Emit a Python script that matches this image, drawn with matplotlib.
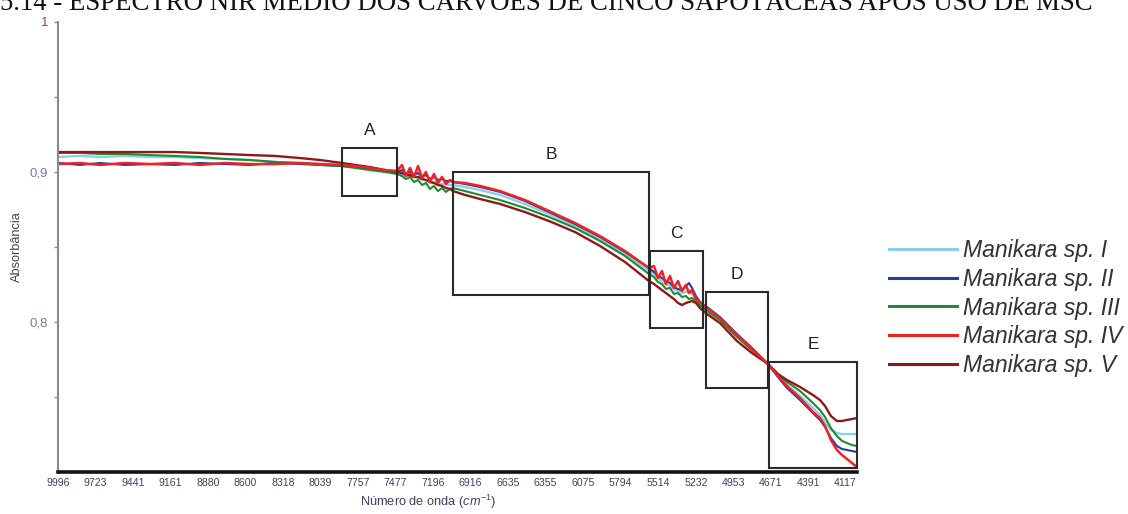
import matplotlib
matplotlib.use("Agg")
import matplotlib.pyplot as plt
from matplotlib.patches import Rectangle
from matplotlib.font_manager import FontProperties

plt.rcParams["font.family"] = ["Liberation Sans", "DejaVu Sans"]
plt.rcParams["mathtext.fontset"] = "custom"
plt.rcParams["mathtext.rm"] = "Liberation Sans"
plt.rcParams["mathtext.it"] = "Liberation Sans:italic"

# ---- spectra (wavenumber in cm-1, absorbance after MSC) ----
wavenumber = [
    9996, 9836, 9686, 9499, 9312, 9126, 8939, 8752, 8565, 8378,
    8191, 8042, 7877, 7780, 7668, 7556, 7466, 7429, 7399, 7369,
    7339, 7309, 7279, 7250, 7220, 7190, 7160, 7130, 7100, 7070,
    7048, 6958, 6846, 6696, 6510, 6330, 6136, 5949, 5762, 5583,
    5545, 5516, 5486, 5456, 5426, 5396, 5366, 5336, 5306, 5284,
    5261, 5232, 5202, 5149, 5052, 4925, 4813, 4693, 4619, 4551,
    4454, 4357, 4305, 4267, 4223, 4178, 4140, 4103, 4066, 4028,
]

abs_I = [
    .9100, .9107, .9100, .9107, .9100, .9100, .9093, .9087, .9080, .9067,
    .9060, .9053, .9040, .9033, .9020, .9007, .8993, .8987, .8980, .8973,
    .8967, .8960, .8953, .8947, .8940, .8933, .8927, .8920, .8920, .8913,
    .8913, .8900, .8880, .8847, .8787, .8720, .8640, .8553, .8453, .8340,
    .8320, .8293, .8273, .8253, .8240, .8220, .8207, .8193, .8200, .8207,
    .8187, .8160, .8127, .8087, .8020, .7907, .7820, .7720, .7640, .7580,
    .7507, .7427, .7380, .7333, .7280, .7260, .7253, .7253, .7253, .7253,
]

abs_II = [
    .9060, .9047, .9060, .9047, .9053, .9047, .9060, .9053, .9047, .9060,
    .9053, .9047, .9040, .9033, .9020, .9007, .9000, .9013, .8987, .9000,
    .8980, .8993, .8967, .8980, .8953, .8967, .8947, .8953, .8940, .8940,
    .8933, .8920, .8900, .8867, .8807, .8733, .8653, .8567, .8467, .8360,
    .8333, .8307, .8293, .8273, .8260, .8233, .8220, .8213, .8240, .8260,
    .8227, .8173, .8133, .8100, .8033, .7920, .7827, .7720, .7633, .7560,
    .7480, .7393, .7347, .7300, .7227, .7173, .7153, .7147, .7140, .7133,
]

abs_III = [
    .9127, .9127, .9120, .9120, .9113, .9107, .9100, .9087, .9080, .9067,
    .9060, .9047, .9040, .9027, .9013, .9000, .8987, .8973, .8953, .8967,
    .8933, .8947, .8913, .8927, .8887, .8907, .8873, .8893, .8867, .8887,
    .8893, .8873, .8847, .8813, .8760, .8700, .8627, .8540, .8440, .8320,
    .8300, .8267, .8253, .8220, .8227, .8187, .8193, .8167, .8173, .8153,
    .8160, .8140, .8113, .8073, .8013, .7900, .7813, .7720, .7653, .7600,
    .7540, .7460, .7413, .7367, .7293, .7240, .7207, .7193, .7180, .7173,
]

abs_IV = [
    .9053, .9060, .9047, .9060, .9053, .9060, .9047, .9060, .9053, .9053,
    .9060, .9053, .9047, .9040, .9027, .9013, .9007, .9047, .8973, .9027,
    .8967, .9040, .8960, .9000, .8933, .8987, .8927, .8967, .8920, .8947,
    .8933, .8927, .8907, .8873, .8813, .8740, .8660, .8573, .8473, .8360,
    .8373, .8293, .8340, .8253, .8307, .8227, .8273, .8207, .8247, .8193,
    .8213, .8153, .8133, .8093, .8027, .7913, .7820, .7720, .7640, .7573,
    .7493, .7400, .7360, .7307, .7213, .7147, .7113, .7087, .7060, .7033,
]

abs_V = [
    .9133, .9133, .9133, .9133, .9133, .9133, .9127, .9120, .9113, .9107,
    .9093, .9080, .9060, .9047, .9033, .9013, .9000, .8993, .8980, .8980,
    .8967, .8967, .8953, .8947, .8933, .8927, .8913, .8907, .8893, .8887,
    .8873, .8847, .8820, .8787, .8733, .8673, .8600, .8507, .8400, .8273,
    .8253, .8233, .8213, .8193, .8173, .8153, .8127, .8113, .8127, .8133,
    .8140, .8127, .8093, .8053, .7993, .7873, .7793, .7720, .7653, .7613,
    .7567, .7513, .7480, .7440, .7373, .7340, .7340, .7347, .7353, .7360,
]

species = ["Manikara sp. I", "Manikara sp. II", "Manikara sp. III",
           "Manikara sp. IV", "Manikara sp. V"]
series = [abs_I, abs_II, abs_III, abs_IV, abs_V]
colors = ["#8fcdec", "#2c3a9e", "#1f8a30", "#ee2424", "#8c1a1a"]
widths = [1.7, 1.5, 1.5, 1.8, 1.7]
draw_order = [0, 1, 2, 4, 3]

# ---- highlighted spectral regions ----
region_names = ["A", "B", "C", "D", "E"]
region_lo = [7466, 5583, 5179, 4693, 4028]
region_hi = [7877, 7048, 5575, 5157, 4686]
region_bottom = [0.884, 0.818, 0.796, 0.756, 0.7027]
region_top = [0.916, 0.900, 0.8473, 0.820, 0.7733]

# ---- axis ticks ----
xtick_values = [9996, 9723, 9441, 9161, 8880, 8600, 8318, 8039, 7757, 7477,
                7196, 6916, 6635, 6355, 6075, 5794, 5514, 5232, 4953, 4671,
                4391, 4117]
ytick_values = [0.75, 0.8, 0.85, 0.9, 0.95, 1.0]
ytick_labels = ["", "0,8", "", "0,9", "", "1"]

W, H = 1128, 514
fig = plt.figure(figsize=(W / 100, H / 100), dpi=100)
ax = fig.add_axes([58 / W, (H - 472) / H, (857 - 58) / W, (472 - 22) / H])

handles = [None] * len(series)
for i in draw_order:
    (ln,) = ax.plot(wavenumber, series[i], color=colors[i], lw=widths[i],
                    solid_joinstyle="round")
    handles[i] = ln

for name, lo, hi, b, t in zip(region_names, region_lo, region_hi,
                              region_bottom, region_top):
    ax.add_patch(Rectangle((lo, b), hi - lo, t - b, fill=False,
                           edgecolor="#2a2a2a", lw=1.5, clip_on=False,
                           zorder=5))
    ax.annotate(name, xy=((lo + hi) / 2, t), xytext=(0, 12.5),
                textcoords="offset points", ha="center", va="center",
                fontsize=12.5, color="#222222")

ax.set_xlim(10000, 4028)
ax.set_ylim(0.7, 1.0)

for side in ("top", "right"):
    ax.spines[side].set_visible(False)
ax.spines["left"].set_color("#8a8a8a")
ax.spines["left"].set_linewidth(1.5)
ax.spines["bottom"].set_color("#111111")
ax.spines["bottom"].set_linewidth(2.6)

ax.set_xticks(xtick_values)
ax.set_xticklabels([str(v) for v in xtick_values])
ax.tick_params(axis="x", length=0, pad=4.5, labelsize=7.6,
               labelcolor="#3d4360")
ax.set_yticks(ytick_values)
ax.set_yticklabels(ytick_labels)
ax.tick_params(axis="y", direction="out", length=3, width=1, color="#8a8a8a",
               pad=4, labelsize=9.5, labelcolor="#7080a0")
ax.get_yticklabels()[-1].set_color("#8a4a3a")

ax.set_xlabel(r"Número de onda $(cm^{-1})$", fontsize=9.2, color="#3c4260",
              va="center")
ax.xaxis.set_label_coords((428 - 58) / 799, (472 - 502) / 450)
ax.set_ylabel("Absorbância", fontsize=9.2, color="#444444", va="center")
ax.yaxis.set_label_coords((17 - 58) / 799, 0.5)

leg_font = FontProperties(family="Liberation Sans", style="italic", size=16.6)
leg = fig.legend(handles, species, loc="upper left",
                 bbox_to_anchor=(889 / W, 1 - 239 / H), frameon=False,
                 prop=leg_font, handlelength=2.95, handletextpad=0.27,
                 labelspacing=0.25, borderpad=0, borderaxespad=0)
for txt in leg.get_texts():
    txt.set_color("#333333")
for lh in leg.legend_handles:
    lh.set_linewidth(2.2)

fig.text(0, 1 - 10 / H,
         "5.14 - ESPECTRO NIR MÉDIO DOS CARVÕES DE CINCO SAPOTÁCEAS APÓS USO DE MSC",
         family="Liberation Serif", fontsize=19.3, va="baseline", ha="left",
         color="#111111")

fig.savefig("out.png", dpi=100)
